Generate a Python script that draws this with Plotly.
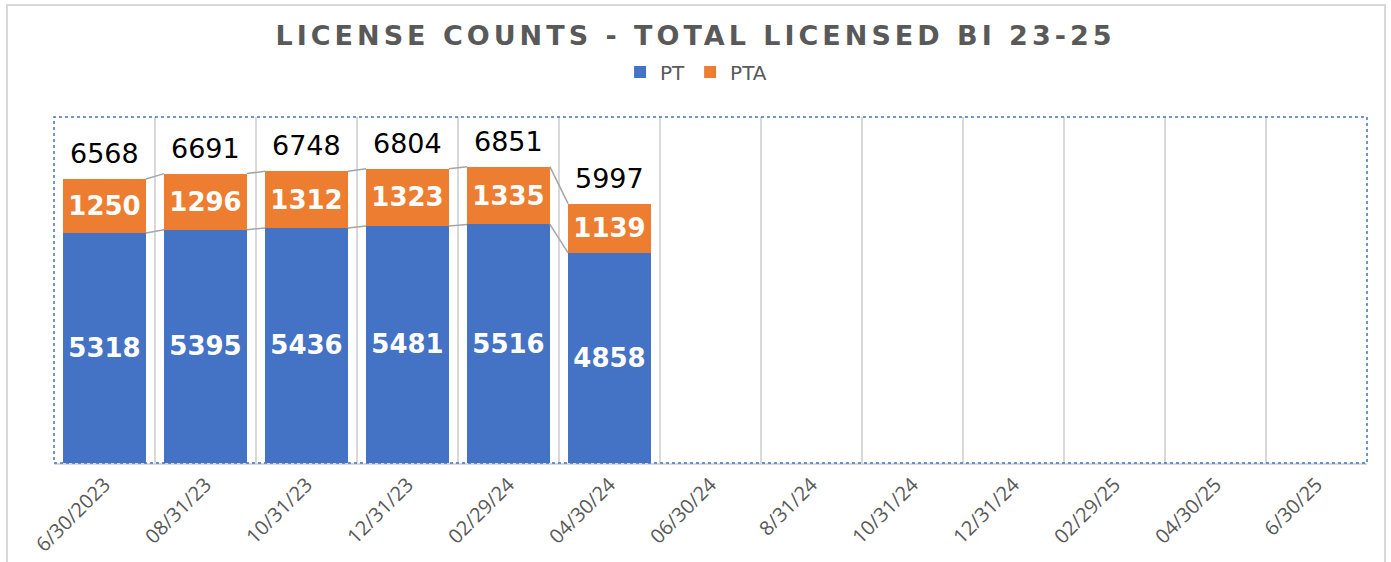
import plotly.graph_objects as go

categories = ["6/30/2023", "08/31/23", "10/31/23", "12/31/23", "02/29/24", "04/30/24",
              "06/30/24", "8/31/24", "10/31/24", "12/31/24", "02/29/25", "04/30/25", "6/30/25"]
pt = [5318, 5395, 5436, 5481, 5516, 4858]
pta = [1250, 1296, 1312, 1323, 1335, 1139]
totals = [a + b for a, b in zip(pt, pta)]

BLUE = "#4472C4"
ORANGE = "#ED7D31"
GRID = "#D9D9D9"
TXT = "#595959"
BW = 0.82
FONT = "DejaVu Sans"

n = len(categories)
idx = list(range(n))
xs = idx[:len(pt)]

fig = go.Figure()
fig.add_trace(go.Bar(x=xs, y=pt, name="PT", marker=dict(color=BLUE, line=dict(width=0)),
                     width=BW, text=[str(v) for v in pt], textposition="inside",
                     insidetextanchor="middle", textangle=0,
                     textfont=dict(family=FONT, size=26, color="white", weight="bold")))
fig.add_trace(go.Bar(x=xs, y=pta, name="PTA", marker=dict(color=ORANGE, line=dict(width=0)),
                     width=BW, text=[str(v) for v in pta], textposition="inside",
                     insidetextanchor="middle", textangle=0,
                     textfont=dict(family=FONT, size=26, color="white", weight="bold")))

# series lines connecting bar tops
for level in (pt, totals):
    for i in range(len(level) - 1):
        fig.add_trace(go.Scatter(x=[xs[i] + BW / 2, xs[i + 1] - BW / 2], y=[level[i], level[i + 1]],
                                 mode="lines", line=dict(color="#A5A5A5", width=1.5),
                                 showlegend=False, hoverinfo="skip"))

# total labels
for x, t in zip(xs, totals):
    fig.add_annotation(x=x, y=t, text=str(t), showarrow=False, yanchor="bottom", yshift=8,
                       font=dict(family=FONT, size=27, color="black"))

fig.update_layout(
    barmode="stack",
    width=1391, height=562,
    margin=dict(l=54, r=24, t=117, b=99, autoexpand=False),
    paper_bgcolor="white", plot_bgcolor="white",
    title=dict(text="<b>LICENSE COUNTS - TOTAL LICENSED BI 23-25</b>", x=0.5, xanchor="center",
               y=0.936, yanchor="middle",
               font=dict(family=FONT, size=27, color=TXT)),
    legend=dict(orientation="h", x=0.489, xanchor="center", y=1.13, yanchor="middle",
                font=dict(family=FONT, size=20, color=TXT), itemwidth=30,
                traceorder="normal"),
    xaxis=dict(range=[-0.5, n - 0.5], tickmode="array", tickvals=idx, ticktext=categories,
               tickangle=-45, showgrid=False, ticks="", showline=True, linecolor=GRID, linewidth=2,
               tickfont=dict(family="Open Sans", size=20, color=TXT), zeroline=False,
               automargin=False),
    xaxis2=dict(range=[-0.5, n - 0.5], overlaying="x", tickmode="array",
                tickvals=[i + 0.5 for i in idx[:-1]], showticklabels=False, showgrid=True,
                gridcolor=GRID, gridwidth=2, zeroline=False, ticks="", automargin=False),
    yaxis=dict(range=[0, 8000], showgrid=False, showticklabels=False, zeroline=False, ticks="",
               automargin=False),
    showlegend=True,
    bargap=0.18,
)
# invisible trace to activate xaxis2 gridlines
fig.add_trace(go.Scatter(x=[0], y=[0], xaxis="x2", mode="markers", marker=dict(opacity=0),
                         showlegend=False, hoverinfo="skip"))

# plot area dotted border and chart outer border
fig.add_shape(type="rect", xref="paper", yref="paper", x0=0, x1=1, y0=0, y1=1,
              line=dict(color=BLUE, width=1.5, dash="dot"), layer="above")
fig.add_shape(type="rect", xref="paper", yref="paper", x0=-0.0358, x1=1.0137, y0=-0.5, y1=1.3237,
              line=dict(color=GRID, width=2))

post = ("document.body.style.margin='0';"
        "var t=document.querySelector('.gtitle');"
        "if(t){t.style.letterSpacing='4px';}")
fig.write_html("out.html", post_script=post, config={"displayModeBar": False})
